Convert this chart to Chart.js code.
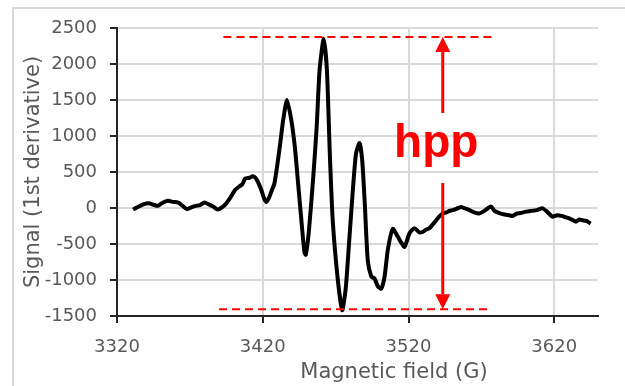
<!DOCTYPE html>
<html>
<head>
<meta charset="utf-8">
<script src="https://cdn.jsdelivr.net/npm/chart.js@4/dist/chart.umd.min.js"></script>
<style>
    html, body { margin: 0; padding: 0; background: #fff; overflow: hidden; }
    #wrap { position: relative; width: 625px; height: 386px; overflow: hidden; }
    #frame { position: absolute; left: 12px; top: 7px; right: 0; bottom: 0; border-left: 2px solid #d9d9d9; border-top: 2px solid #d9d9d9; }
    #chart { position: absolute; left: 0; top: 0; }
</style>
</head>
<body>
<div id="wrap">
    <div id="frame"></div>
    <canvas id="chart" width="625" height="386"></canvas>
</div>
<script>
// Spectrum: field (G) and signal
const fieldValues = [
    3331, 3334, 3338, 3342, 3345, 3348, 3351, 3355, 3358, 3362,
    3365, 3368, 3371, 3374, 3377, 3380, 3383, 3386, 3389, 3392,
    3395, 3398, 3401, 3404, 3406, 3408, 3411, 3413, 3415, 3417,
    3419, 3421, 3422.5, 3424.5, 3426.5, 3428, 3430, 3432, 3434, 3436.6,
    3439.5, 3442, 3444, 3446.5, 3448.5, 3449.5, 3451.5, 3454.5, 3457, 3459,
    3461.8, 3464, 3466, 3468, 3471.5, 3474.5, 3477, 3479.5, 3482, 3484,
    3486.4, 3488.2, 3490, 3492, 3494.4, 3496.7, 3499, 3501.3, 3503.6, 3505.8,
    3509.2, 3512.7, 3515, 3517.3, 3520.7, 3524, 3527.5, 3530, 3532, 3534.4,
    3537, 3539, 3541.5, 3543.6, 3546, 3548, 3550.4, 3553, 3556, 3558,
    3561.8, 3565, 3568.6, 3572, 3576.6, 3579, 3582.3, 3586, 3589, 3591.4,
    3594, 3597, 3600.6, 3604, 3608, 3612, 3615, 3618.8, 3622, 3625,
    3628, 3631, 3634.9, 3637, 3639.4, 3642, 3645
];
const signalValues = [
    -20, 10, 50, 65, 45, 30, 70, 100, 85, 75,
    30, -15, 10, 30, 40, 75, 50, 20, -20, 10,
    65, 150, 250, 300, 330, 410, 420, 440, 420, 350,
    250, 130, 85, 150, 260, 340, 600, 900, 1220, 1500,
    1230, 850, 400, -170, -600, -650, -350, 390, 1130, 1920,
    2350, 1920, 760, -170, -1000, -1420, -1100, -400, 300, 760,
    900, 670, 60, -720, -950, -980, -1090, -1120, -950, -580,
    -290, -400, -480, -540, -350, -280, -340, -330, -300, -280,
    -220, -170, -110, -75, -60, -40, -30, -10, 15, 0,
    -30, -60, -75, -40, 20, -40, -70, -90, -100, -110,
    -80, -70, -50, -40, -30, -5, -50, -120, -100, -110,
    -130, -150, -190, -160, -170, -180, -215
];
const xTickValues = [3320, 3420, 3520, 3620];

// hpp annotation (data units)
const hppTop = 2375;
const hppBottom = -1405;
const hppTopLine = [3393, 3580];
const hppBottomLine = [3390, 3575.5];
const hppArrowField = 3543.5;
const hppGap = [347, 1319];
const hppLabel = 'hpp';

const xTitle = 'Magnetic field (G)';
const yTitle = 'Signal (1st derivative)';

const textGray = '#595959';
const red = '#ff0000';

const hppPlugin = {
    id: 'hpp',
    afterDraw(chart) {
        const ctx = chart.ctx;
        const xs = chart.scales.x;
        const ys = chart.scales.y;

        ctx.save();
        ctx.strokeStyle = red;
        ctx.fillStyle = red;

        // dashed reference lines
        ctx.lineWidth = 2;
        ctx.setLineDash([8, 5]);
        ctx.beginPath();
        ctx.moveTo(xs.getPixelForValue(hppTopLine[0]), ys.getPixelForValue(hppTop));
        ctx.lineTo(xs.getPixelForValue(hppTopLine[1]), ys.getPixelForValue(hppTop));
        ctx.moveTo(xs.getPixelForValue(hppBottomLine[0]), ys.getPixelForValue(hppBottom));
        ctx.lineTo(xs.getPixelForValue(hppBottomLine[1]), ys.getPixelForValue(hppBottom));
        ctx.stroke();
        ctx.setLineDash([]);

        // arrows
        const ax = xs.getPixelForValue(hppArrowField);
        const tipTop = ys.getPixelForValue(hppTop);
        const tipBottom = ys.getPixelForValue(hppBottom);
        const headLen = 15;
        const headHalf = 7.5;
        ctx.lineWidth = 3;
        ctx.beginPath();
        ctx.moveTo(ax, ys.getPixelForValue(hppGap[1]));
        ctx.lineTo(ax, tipTop + headLen);
        ctx.moveTo(ax, ys.getPixelForValue(hppGap[0]));
        ctx.lineTo(ax, tipBottom - headLen);
        ctx.stroke();

        ctx.beginPath();
        ctx.moveTo(ax, tipTop);
        ctx.lineTo(ax - headHalf, tipTop + headLen);
        ctx.lineTo(ax + headHalf, tipTop + headLen);
        ctx.closePath();
        ctx.fill();
        ctx.beginPath();
        ctx.moveTo(ax, tipBottom);
        ctx.lineTo(ax - headHalf, tipBottom - headLen);
        ctx.lineTo(ax + headHalf, tipBottom - headLen);
        ctx.closePath();
        ctx.fill();

        // label
        ctx.font = 'bold 46px "Liberation Sans", Arial, sans-serif';
        ctx.textAlign = 'center';
        ctx.textBaseline = 'alphabetic';
        ctx.fillText(hppLabel, xs.getPixelForValue(3539), ys.getPixelForValue(710));

        // axis titles
        ctx.fillStyle = textGray;
        ctx.font = '21px "DejaVu Sans", sans-serif';
        ctx.textBaseline = 'middle';
        ctx.fillText(xTitle, 394, 373);
        ctx.translate(34, (chart.chartArea.top + chart.chartArea.bottom) / 2);
        ctx.rotate(-Math.PI / 2);
        ctx.fillText(yTitle, 0, 0);
        ctx.restore();
    }
};

document.addEventListener('DOMContentLoaded', function() {
    const points = fieldValues.map((f, i) => ({ x: f, y: signalValues[i] }));

    new Chart(document.getElementById('chart'), {
        type: 'line',
        data: {
            datasets: [{
                data: points,
                borderColor: '#000000',
                borderWidth: 4,
                pointRadius: 0,
                tension: 0.2,
                borderJoinStyle: 'round',
                fill: false
            }]
        },
        options: {
            responsive: false,
            animation: false,
            layout: { padding: { left: 0, top: 28, right: 27, bottom: 0 } },
            plugins: {
                legend: { display: false },
                tooltip: { enabled: false }
            },
            scales: {
                x: {
                    type: 'linear',
                    min: 3320,
                    max: 3650,
                    afterBuildTicks: (scale) => {
                        scale.ticks = xTickValues.map(v => ({ value: v }));
                    },
                    afterFit: (scale) => { scale.height = 70; },
                    grid: {
                        color: '#d9d9d9',
                        lineWidth: 2,
                        tickColor: '#262626',
                        tickLength: 7,
                        tickWidth: 2
                    },
                    border: { color: '#262626', width: 2 },
                    ticks: {
                        color: textGray,
                        padding: 14,
                        maxRotation: 0,
                        callback: (v) => String(v),
                        font: { family: '"DejaVu Sans", sans-serif', size: 18 }
                    }
                },
                y: {
                    min: -1500,
                    max: 2500,
                    afterFit: (scale) => { scale.width = 117; },
                    grid: {
                        color: '#d9d9d9',
                        lineWidth: 2,
                        tickColor: '#262626',
                        tickLength: 7,
                        tickWidth: 2
                    },
                    border: { color: '#262626', width: 2 },
                    ticks: {
                        stepSize: 500,
                        color: textGray,
                        padding: 13,
                        callback: (v) => String(v),
                        font: { family: '"DejaVu Sans", sans-serif', size: 18 }
                    }
                }
            }
        },
        plugins: [hppPlugin]
    });
});
</script>
</body>
</html>
